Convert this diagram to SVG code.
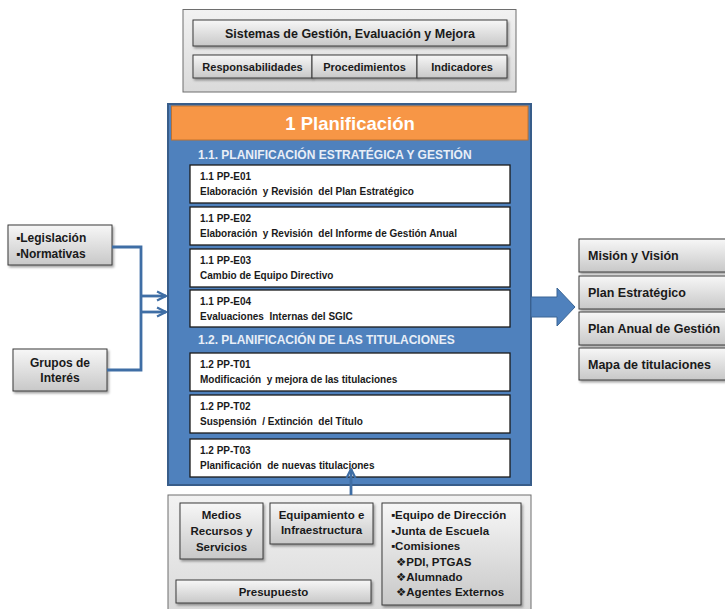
<svg xmlns="http://www.w3.org/2000/svg" width="725" height="609" viewBox="0 0 725 609">
<defs>
<linearGradient id="gBox" x1="0" y1="0" x2="0" y2="1">
<stop offset="0" stop-color="#F7F7F7"/>
<stop offset="1" stop-color="#C8C8C8"/>
</linearGradient>
<linearGradient id="gOuter" x1="0" y1="0" x2="0" y2="1">
<stop offset="0" stop-color="#F2F2F2"/>
<stop offset="1" stop-color="#DADADA"/>
</linearGradient>
<filter id="sh" x="-10%" y="-10%" width="130%" height="140%">
<feDropShadow dx="1.5" dy="2" stdDeviation="1.2" flood-color="#000" flood-opacity="0.35"/>
</filter>
<marker id="chev" viewBox="0 0 10 10" refX="9" refY="5" markerWidth="4" markerHeight="4" orient="auto" markerUnits="strokeWidth">
<path d="M1,1 L9,5 L1,9" fill="none" stroke="#3F6EA5" stroke-width="2"/>
</marker>
</defs>
<style>
text{font-family:"Liberation Sans",Arial,"DejaVu Sans",sans-serif;font-weight:bold;fill:#1A1A1A;white-space:pre}
.gb{fill:url(#gBox);stroke:#3A3A3A;stroke-width:1;filter:url(#sh)}
.go{fill:url(#gOuter);stroke:#6E6E6E;stroke-width:1}
.wb{fill:#FFFFFF;stroke:#1A1A1A;stroke-width:1.3}
.bt{font-size:10px}
.sec{font-size:12px;fill:#E8EEF7}
.conn{fill:none;stroke:#3F6EA5;stroke-width:2.8}
.c{text-anchor:middle}
</style>

<g id="sistemas">
<rect class="go" x="183" y="9.5" width="333" height="82.5"/>
<rect class="gb" x="193" y="20" width="314" height="26"/>
<text class="c" x="350" y="37.5" font-size="12.5">Sistemas de Gestión, Evaluación y Mejora</text>
<rect class="gb" x="193" y="55" width="119" height="23"/>
<text class="c" x="252.5" y="70.5" font-size="11">Responsabilidades</text>
<rect class="gb" x="312" y="55" width="105" height="23"/>
<text class="c" x="364.5" y="70.5" font-size="11">Procedimientos</text>
<rect class="gb" x="417" y="55" width="90" height="23"/>
<text class="c" x="462" y="70.5" font-size="11">Indicadores</text>
</g>

<g id="planificacion">
<rect x="168" y="104" width="363" height="381" fill="#4F81BD" stroke="#385D8A" stroke-width="2"/>
<rect x="171.5" y="106" width="356.5" height="34" fill="#F79646" stroke="#C0722F" stroke-width="1"/>
<text class="c" x="350" y="130" font-size="18.5" style="fill:#FFFFFF">1 Planificación</text>
<text class="sec" x="198" y="159">1.1. PLANIFICACIÓN ESTRATÉGICA Y GESTIÓN</text>
<text class="sec" x="198" y="344">1.2. PLANIFICACIÓN DE LAS TITULACIONES</text>
</g>

<g id="pp-e01">
<rect class="wb" x="190" y="165" width="320" height="38"/>
<text class="bt" x="200" y="180">1.1 PP-E01</text>
<text class="bt" x="200" y="195">Elaboración  y Revisión  del Plan Estratégico</text>
</g>
<g id="pp-e02">
<rect class="wb" x="190" y="207" width="320" height="38"/>
<text class="bt" x="200" y="222">1.1 PP-E02</text>
<text class="bt" x="200" y="237">Elaboración  y Revisión  del Informe de Gestión Anual</text>
</g>
<g id="pp-e03">
<rect class="wb" x="190" y="249" width="320" height="38"/>
<text class="bt" x="200" y="264">1.1 PP-E03</text>
<text class="bt" x="200" y="279">Cambio de Equipo Directivo</text>
</g>
<g id="pp-e04">
<rect class="wb" x="190" y="290" width="320" height="37"/>
<text class="bt" x="200" y="305">1.1 PP-E04</text>
<text class="bt" x="200" y="320">Evaluaciones  Internas del SGIC</text>
</g>
<g id="pp-t01">
<rect class="wb" x="190" y="353" width="320" height="38"/>
<text class="bt" x="200" y="368">1.2 PP-T01</text>
<text class="bt" x="200" y="383">Modificación  y mejora de las titulaciones</text>
</g>
<g id="pp-t02">
<rect class="wb" x="190" y="395" width="320" height="38"/>
<text class="bt" x="200" y="410">1.2 PP-T02</text>
<text class="bt" x="200" y="425">Suspensión  / Extinción  del Título</text>
</g>
<g id="pp-t03">
<rect class="wb" x="190" y="439" width="320" height="38"/>
<text class="bt" x="200" y="454">1.2 PP-T03</text>
<text class="bt" x="200" y="469">Planificación  de nuevas titulaciones</text>
</g>

<g id="legislacion">
<rect class="gb" x="8" y="225" width="104" height="40"/>
<text x="16" y="241.5" font-size="12">▪Legislación</text>
<text x="16" y="257.5" font-size="12">▪Normativas</text>
</g>
<g id="grupos">
<rect class="gb" x="13" y="349" width="94" height="42"/>
<text class="c" x="60" y="367" font-size="12">Grupos de</text>
<text class="c" x="60" y="382" font-size="12">Interés</text>
</g>

<g id="salidas">
<rect class="gb" x="579" y="239" width="152" height="33"/>
<text x="588" y="260" font-size="12.5">Misión y Visión</text>
<rect class="gb" x="579" y="276" width="152" height="33"/>
<text x="588" y="297" font-size="12.5">Plan Estratégico</text>
<rect class="gb" x="579" y="312" width="152" height="33"/>
<text x="588" y="333" font-size="12.5">Plan Anual de Gestión</text>
<rect class="gb" x="579" y="348" width="152" height="32"/>
<text x="588" y="368.5" font-size="12.5">Mapa de titulaciones</text>
</g>

<g id="recursos">
<rect class="go" x="168" y="495" width="363" height="115"/>
<rect class="gb" x="180" y="503" width="83" height="56"/>
<text class="c" x="221.5" y="519" font-size="11.5">Medios</text>
<text class="c" x="221.5" y="535" font-size="11.5">Recursos y</text>
<text class="c" x="221.5" y="551" font-size="11.5">Servicios</text>
<rect class="gb" x="270" y="503" width="103" height="41"/>
<text class="c" x="321.5" y="519" font-size="11.5">Equipamiento e</text>
<text class="c" x="321.5" y="534" font-size="11.5">Infraestructura</text>
<rect class="gb" x="176" y="580" width="195" height="23"/>
<text class="c" x="273.5" y="596" font-size="11.5">Presupuesto</text>
<rect class="gb" x="382" y="503" width="139" height="102"/>
<text x="391" y="519" font-size="11.5">▪Equipo de Dirección</text>
<text x="391" y="535" font-size="11.5">▪Junta de Escuela</text>
<text x="391" y="550" font-size="11.5">▪Comisiones</text>
<text x="396" y="566" font-size="11.5">❖PDI, PTGAS</text>
<text x="396" y="581" font-size="11.5">❖Alumnado</text>
<text x="396" y="596" font-size="11.5">❖Agentes Externos</text>
</g>

<g id="connectors">
<path class="conn" d="M112,247 H141 V370 H107"/>
<path class="conn" d="M141,296 H166" marker-end="url(#chev)"/>
<path class="conn" d="M141,312 H166" marker-end="url(#chev)"/>
<path class="conn" d="M351,495 V469" marker-end="url(#chev)"/>
<polygon points="531,297 557,297 557,288 575,307 557,326 557,317 531,317" fill="#4F81BD" stroke="#3A6595" stroke-width="1"/>
</g>
</svg>
